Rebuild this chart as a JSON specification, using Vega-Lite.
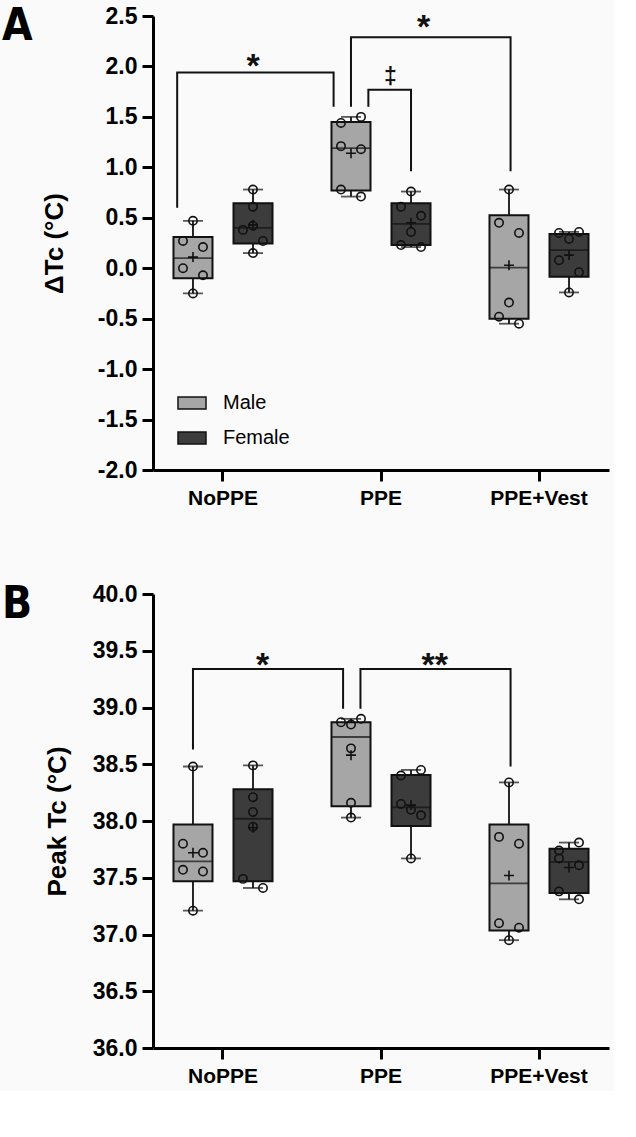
{
  "$schema": "https://vega.github.io/schema/vega-lite/v6.json",
  "background": "#fafafa",
  "padding": {"left": 2, "top": 5, "right": 5, "bottom": 5},
  "spacing": 75,
  "config": {
    "view": {"stroke": null},
    "axis": {"grid": false, "domainColor": "#000", "tickColor": "#000", "labelColor": "#000", "titleColor": "#000", "domainWidth": 3, "tickWidth": 3}
  },
  "datasets": {
    "boxA": [
      {"cond": "NoPPE", "sex": "Male", "min": -0.25, "q1": -0.10, "med": 0.10, "q3": 0.31, "max": 0.47, "mean": 0.11},
      {"cond": "NoPPE", "sex": "Female", "min": 0.15, "q1": 0.245, "med": 0.40, "q3": 0.645, "max": 0.78, "mean": 0.43},
      {"cond": "PPE", "sex": "Male", "min": 0.71, "q1": 0.77, "med": 1.19, "q3": 1.45, "max": 1.50, "mean": 1.14},
      {"cond": "PPE", "sex": "Female", "min": 0.21, "q1": 0.23, "med": 0.44, "q3": 0.645, "max": 0.76, "mean": 0.45},
      {"cond": "PPE+Vest", "sex": "Male", "min": -0.55, "q1": -0.50, "med": 0.005, "q3": 0.525, "max": 0.78, "mean": 0.03},
      {"cond": "PPE+Vest", "sex": "Female", "min": -0.24, "q1": -0.085, "med": 0.18, "q3": 0.34, "max": 0.36, "mean": 0.13}
    ],
    "ptsA": [
      {"cond": "NoPPE", "slot": "M-C", "v": 0.47}, {"cond": "NoPPE", "slot": "M-L", "v": 0.27}, {"cond": "NoPPE", "slot": "M-R", "v": 0.21},
      {"cond": "NoPPE", "slot": "M-L", "v": 0.00}, {"cond": "NoPPE", "slot": "M-R", "v": -0.07}, {"cond": "NoPPE", "slot": "M-C", "v": -0.25},
      {"cond": "NoPPE", "slot": "F-C", "v": 0.78}, {"cond": "NoPPE", "slot": "F-C", "v": 0.61}, {"cond": "NoPPE", "slot": "F-C", "v": 0.42},
      {"cond": "NoPPE", "slot": "F-L", "v": 0.38}, {"cond": "NoPPE", "slot": "F-R", "v": 0.27}, {"cond": "NoPPE", "slot": "F-C", "v": 0.15},
      {"cond": "PPE", "slot": "M-R", "v": 1.50}, {"cond": "PPE", "slot": "M-L", "v": 1.44}, {"cond": "PPE", "slot": "M-L", "v": 1.21},
      {"cond": "PPE", "slot": "M-R", "v": 1.18}, {"cond": "PPE", "slot": "M-L", "v": 0.78}, {"cond": "PPE", "slot": "M-R", "v": 0.71},
      {"cond": "PPE", "slot": "F-C", "v": 0.76}, {"cond": "PPE", "slot": "F-L", "v": 0.61}, {"cond": "PPE", "slot": "F-R", "v": 0.52},
      {"cond": "PPE", "slot": "F-C", "v": 0.36}, {"cond": "PPE", "slot": "F-L", "v": 0.23}, {"cond": "PPE", "slot": "F-R", "v": 0.21},
      {"cond": "PPE+Vest", "slot": "M-C", "v": 0.78}, {"cond": "PPE+Vest", "slot": "M-L", "v": 0.45}, {"cond": "PPE+Vest", "slot": "M-R", "v": 0.35},
      {"cond": "PPE+Vest", "slot": "M-C", "v": -0.34}, {"cond": "PPE+Vest", "slot": "M-L", "v": -0.48}, {"cond": "PPE+Vest", "slot": "M-R", "v": -0.55},
      {"cond": "PPE+Vest", "slot": "F-R", "v": 0.36}, {"cond": "PPE+Vest", "slot": "F-L", "v": 0.35}, {"cond": "PPE+Vest", "slot": "F-C", "v": 0.29},
      {"cond": "PPE+Vest", "slot": "F-L", "v": 0.08}, {"cond": "PPE+Vest", "slot": "F-R", "v": -0.04}, {"cond": "PPE+Vest", "slot": "F-C", "v": -0.24}
    ],
    "brkA": [
      {"id": 1, "k": 0, "c": -0.29, "v": 0.60}, {"id": 1, "k": 1, "c": -0.29, "v": 1.94}, {"id": 1, "k": 2, "c": 0.70, "v": 1.94}, {"id": 1, "k": 3, "c": 0.70, "v": 1.60},
      {"id": 2, "k": 0, "c": 0.81, "v": 1.60}, {"id": 2, "k": 1, "c": 0.81, "v": 2.29}, {"id": 2, "k": 2, "c": 1.82, "v": 2.29}, {"id": 2, "k": 3, "c": 1.82, "v": 0.96},
      {"id": 3, "k": 0, "c": 0.92, "v": 1.60}, {"id": 3, "k": 1, "c": 0.92, "v": 1.77}, {"id": 3, "k": 2, "c": 1.19, "v": 1.77}, {"id": 3, "k": 3, "c": 1.19, "v": 0.96}
    ],
    "starA": [
      {"t": "*", "c": 0.19, "v": 1.90},
      {"t": "*", "c": 1.27, "v": 2.28}
    ],
    "dagA": [
      {"t": "‡", "c": 1.06, "v": 1.83}
    ],
    "boxB": [
      {"cond": "NoPPE", "sex": "Male", "min": 37.21, "q1": 37.47, "med": 37.645, "q3": 37.97, "max": 38.48, "mean": 37.72},
      {"cond": "NoPPE", "sex": "Female", "min": 37.41, "q1": 37.47, "med": 38.02, "q3": 38.28, "max": 38.49, "mean": 37.94},
      {"cond": "PPE", "sex": "Male", "min": 38.03, "q1": 38.13, "med": 38.74, "q3": 38.87, "max": 38.90, "mean": 38.58},
      {"cond": "PPE", "sex": "Female", "min": 37.67, "q1": 37.955, "med": 38.12, "q3": 38.405, "max": 38.45, "mean": 38.14},
      {"cond": "PPE+Vest", "sex": "Male", "min": 36.95, "q1": 37.035, "med": 37.45, "q3": 37.97, "max": 38.34, "mean": 37.52},
      {"cond": "PPE+Vest", "sex": "Female", "min": 37.31, "q1": 37.365, "med": 37.64, "q3": 37.755, "max": 37.81, "mean": 37.59}
    ],
    "ptsB": [
      {"cond": "NoPPE", "slot": "M-C", "v": 38.48}, {"cond": "NoPPE", "slot": "M-L", "v": 37.80}, {"cond": "NoPPE", "slot": "M-R", "v": 37.72},
      {"cond": "NoPPE", "slot": "M-L", "v": 37.57}, {"cond": "NoPPE", "slot": "M-R", "v": 37.555}, {"cond": "NoPPE", "slot": "M-C", "v": 37.21},
      {"cond": "NoPPE", "slot": "F-C", "v": 38.49}, {"cond": "NoPPE", "slot": "F-C", "v": 38.21}, {"cond": "NoPPE", "slot": "F-C", "v": 38.08},
      {"cond": "NoPPE", "slot": "F-C", "v": 37.95}, {"cond": "NoPPE", "slot": "F-L", "v": 37.49}, {"cond": "NoPPE", "slot": "F-R", "v": 37.41},
      {"cond": "PPE", "slot": "M-R", "v": 38.90}, {"cond": "PPE", "slot": "M-L", "v": 38.87}, {"cond": "PPE", "slot": "M-C", "v": 38.85},
      {"cond": "PPE", "slot": "M-C", "v": 38.64}, {"cond": "PPE", "slot": "M-C", "v": 38.16}, {"cond": "PPE", "slot": "M-C", "v": 38.03},
      {"cond": "PPE", "slot": "F-R", "v": 38.45}, {"cond": "PPE", "slot": "F-L", "v": 38.40}, {"cond": "PPE", "slot": "F-L", "v": 38.15},
      {"cond": "PPE", "slot": "F-C", "v": 38.10}, {"cond": "PPE", "slot": "F-R", "v": 38.05}, {"cond": "PPE", "slot": "F-C", "v": 37.67},
      {"cond": "PPE+Vest", "slot": "M-C", "v": 38.34}, {"cond": "PPE+Vest", "slot": "M-L", "v": 37.86}, {"cond": "PPE+Vest", "slot": "M-R", "v": 37.80},
      {"cond": "PPE+Vest", "slot": "M-L", "v": 37.10}, {"cond": "PPE+Vest", "slot": "M-R", "v": 37.06}, {"cond": "PPE+Vest", "slot": "M-C", "v": 36.95},
      {"cond": "PPE+Vest", "slot": "F-R", "v": 37.81}, {"cond": "PPE+Vest", "slot": "F-L", "v": 37.74}, {"cond": "PPE+Vest", "slot": "F-L", "v": 37.67},
      {"cond": "PPE+Vest", "slot": "F-R", "v": 37.61}, {"cond": "PPE+Vest", "slot": "F-L", "v": 37.38}, {"cond": "PPE+Vest", "slot": "F-R", "v": 37.31}
    ],
    "brkB": [
      {"id": 1, "k": 0, "c": -0.19, "v": 38.63}, {"id": 1, "k": 1, "c": -0.19, "v": 39.34}, {"id": 1, "k": 2, "c": 0.76, "v": 39.34}, {"id": 1, "k": 3, "c": 0.76, "v": 38.99},
      {"id": 2, "k": 0, "c": 0.87, "v": 38.99}, {"id": 2, "k": 1, "c": 0.87, "v": 39.34}, {"id": 2, "k": 2, "c": 1.82, "v": 39.34}, {"id": 2, "k": 3, "c": 1.82, "v": 38.48}
    ],
    "starB": [
      {"t": "*", "c": 0.25, "v": 39.28},
      {"t": "**", "c": 1.34, "v": 39.28}
    ]
  },
  "resolve": {"scale": {"fill": "independent"}, "legend": {"fill": "independent"}},
  "vconcat": [
    {
      "width": 456,
      "height": 454,
      "title": {"text": "A", "anchor": "start", "frame": "group", "orient": "top", "offset": -44, "dx": -151, "fontSize": 44, "font": "Liberation Sans Narrow, DejaVu Sans Condensed, Liberation Sans", "fontWeight": "bold", "color": "#000"},
      "resolve": {"scale": {"x": "independent", "xOffset": "independent"}},
      "layer": [
        {
          "data": {"name": "boxA"},
          "mark": {"type": "rule", "strokeWidth": 1.8, "color": "#111"},
          "encoding": {
            "x": {"field": "cond", "type": "nominal", "sort": null, "scale": {"domain": ["NoPPE", "PPE", "PPE+Vest"], "paddingInner": 0.2, "paddingOuter": 0.043},
                  "axis": {"title": null, "labelFont": "Liberation Sans", "labelFontWeight": "bold", "labelFontSize": 21, "labelAngle": 0, "labelPadding": 6, "tickSize": 11}},
            "xOffset": {"field": "sex", "type": "nominal", "scale": {"domain": ["Male", "Female"], "paddingInner": 0.35, "paddingOuter": 0.228}},
            "y": {"field": "min", "type": "quantitative", "title": "ΔTc (°C)",
                  "scale": {"domain": [-2, 2.5], "nice": false, "zero": false},
                  "axis": {"values": [-2, -1.5, -1, -0.5, 0, 0.5, 1, 1.5, 2, 2.5], "labelExpr": "(datum.value < 0 ? '-' : '') + format(abs(datum.value), '.1f')",
                           "labelFont": "Liberation Sans", "labelFontWeight": "bold", "labelFontSize": 23, "labelPadding": 5, "tickSize": 11,
                           "titleFont": "Liberation Sans", "titleFontWeight": "bold", "titleFontSize": 26, "titlePadding": 30}},
            "y2": {"field": "max"}
          }
        },
        {
          "data": {"name": "boxA"},
          "mark": {"type": "bar", "stroke": "#111", "strokeWidth": 2},
          "encoding": {
            "x": {"field": "cond", "type": "nominal", "sort": null, "scale": {"domain": ["NoPPE", "PPE", "PPE+Vest"], "paddingInner": 0.2, "paddingOuter": 0.043}, "axis": null},
            "xOffset": {"field": "sex", "type": "nominal", "scale": {"domain": ["Male", "Female"], "paddingInner": 0.35, "paddingOuter": 0.228}},
            "y": {"field": "q1", "type": "quantitative", "title": "ΔTc (°C)"},
            "y2": {"field": "q3"},
            "fill": {"field": "sex", "type": "nominal", "scale": {"domain": ["Male", "Female"], "range": ["#a6a6a6", "#3c3c3c"]},
                     "legend": {"title": null, "orient": "none", "legendX": 24, "legendY": 372, "symbolType": "M-1,-0.43H1V0.43H-1Z", "symbolSize": 784,
                                "symbolStrokeColor": "#111", "symbolStrokeWidth": 1.5, "labelFont": "Liberation Sans", "labelFontSize": 20, "labelColor": "#000",
                                "labelOffset": 16, "rowPadding": 10}}
          }
        },
        {
          "data": {"name": "boxA"},
          "mark": {"type": "tick", "size": 39, "thickness": 1.8, "color": "#111"},
          "encoding": {
            "x": {"field": "cond", "type": "nominal", "sort": null, "scale": {"domain": ["NoPPE", "PPE", "PPE+Vest"], "paddingInner": 0.2, "paddingOuter": 0.043}, "axis": null},
            "xOffset": {"field": "sex", "type": "nominal", "scale": {"domain": ["Male", "Female"], "paddingInner": 0.35, "paddingOuter": 0.228}},
            "y": {"field": "med", "type": "quantitative", "title": "ΔTc (°C)"}
          }
        },
        {
          "data": {"name": "boxA"},
          "mark": {"type": "tick", "size": 20, "thickness": 1.8, "color": "#111"},
          "encoding": {
            "x": {"field": "cond", "type": "nominal", "sort": null, "scale": {"domain": ["NoPPE", "PPE", "PPE+Vest"], "paddingInner": 0.2, "paddingOuter": 0.043}, "axis": null},
            "xOffset": {"field": "sex", "type": "nominal", "scale": {"domain": ["Male", "Female"], "paddingInner": 0.35, "paddingOuter": 0.228}},
            "y": {"field": "min", "type": "quantitative", "title": "ΔTc (°C)"}
          }
        },
        {
          "data": {"name": "boxA"},
          "mark": {"type": "tick", "size": 20, "thickness": 1.8, "color": "#111"},
          "encoding": {
            "x": {"field": "cond", "type": "nominal", "sort": null, "scale": {"domain": ["NoPPE", "PPE", "PPE+Vest"], "paddingInner": 0.2, "paddingOuter": 0.043}, "axis": null},
            "xOffset": {"field": "sex", "type": "nominal", "scale": {"domain": ["Male", "Female"], "paddingInner": 0.35, "paddingOuter": 0.228}},
            "y": {"field": "max", "type": "quantitative", "title": "ΔTc (°C)"}
          }
        },
        {
          "data": {"name": "boxA"},
          "mark": {"type": "point", "shape": "M-1,0H1M0,-1V1", "filled": false, "stroke": "#111", "strokeWidth": 1.6, "size": 100, "opacity": 1},
          "encoding": {
            "x": {"field": "cond", "type": "nominal", "sort": null, "scale": {"domain": ["NoPPE", "PPE", "PPE+Vest"], "paddingInner": 0.2, "paddingOuter": 0.043}, "axis": null},
            "xOffset": {"field": "sex", "type": "nominal", "scale": {"type": "point", "domain": ["Male", "Female"], "padding": 0.553}},
            "y": {"field": "mean", "type": "quantitative", "title": "ΔTc (°C)"}
          }
        },
        {
          "data": {"name": "ptsA"},
          "mark": {"type": "point", "shape": "circle", "filled": false, "stroke": "#111", "strokeWidth": 1.6, "size": 70, "opacity": 1},
          "encoding": {
            "x": {"field": "cond", "type": "nominal", "sort": null, "scale": {"domain": ["NoPPE", "PPE", "PPE+Vest"], "paddingInner": 0.2, "paddingOuter": 0.043}, "axis": null},
            "xOffset": {"field": "slot", "type": "nominal", "scale": {"type": "point", "domain": ["d0", "d1", "M-L", "M-C", "M-R", "d5", "d6", "d7", "F-L", "F-C", "F-R", "d11", "d12"], "padding": 0.32}},
            "y": {"field": "v", "type": "quantitative", "title": "ΔTc (°C)"}
          }
        },
        {
          "data": {"name": "brkA"},
          "mark": {"type": "line", "strokeWidth": 2, "color": "#111", "strokeCap": "butt", "strokeJoin": "miter"},
          "encoding": {
            "x": {"field": "c", "type": "quantitative", "scale": {"domain": [-0.443, 2.443], "nice": false, "zero": false}, "axis": null},
            "y": {"field": "v", "type": "quantitative", "title": "ΔTc (°C)"},
            "detail": {"field": "id"},
            "order": {"field": "k"}
          }
        },
        {
          "data": {"name": "starA"},
          "mark": {"type": "text", "font": "Liberation Sans", "fontWeight": "bold", "fontSize": 34, "baseline": "alphabetic", "align": "center", "color": "#111"},
          "encoding": {
            "x": {"field": "c", "type": "quantitative", "scale": {"domain": [-0.443, 2.443], "nice": false, "zero": false}, "axis": null},
            "y": {"field": "v", "type": "quantitative", "title": "ΔTc (°C)"},
            "text": {"field": "t"}
          }
        },
        {
          "data": {"name": "dagA"},
          "mark": {"type": "text", "font": "Liberation Sans", "fontWeight": "bold", "fontSize": 23, "baseline": "alphabetic", "align": "center", "color": "#111"},
          "encoding": {
            "x": {"field": "c", "type": "quantitative", "scale": {"domain": [-0.443, 2.443], "nice": false, "zero": false}, "axis": null},
            "y": {"field": "v", "type": "quantitative", "title": "ΔTc (°C)"},
            "text": {"field": "t"}
          }
        }
      ]
    },
    {
      "width": 456,
      "height": 454,
      "title": {"text": "B", "anchor": "start", "frame": "group", "orient": "top", "offset": -44, "dx": -151, "fontSize": 44, "font": "Liberation Sans Narrow, DejaVu Sans Condensed, Liberation Sans", "fontWeight": "bold", "color": "#000"},
      "resolve": {"scale": {"x": "independent", "xOffset": "independent"}},
      "layer": [
        {
          "data": {"name": "boxB"},
          "mark": {"type": "rule", "strokeWidth": 1.8, "color": "#111"},
          "encoding": {
            "x": {"field": "cond", "type": "nominal", "sort": null, "scale": {"domain": ["NoPPE", "PPE", "PPE+Vest"], "paddingInner": 0.2, "paddingOuter": 0.043},
                  "axis": {"title": null, "labelFont": "Liberation Sans", "labelFontWeight": "bold", "labelFontSize": 21, "labelAngle": 0, "labelPadding": 6, "tickSize": 11}},
            "xOffset": {"field": "sex", "type": "nominal", "scale": {"domain": ["Male", "Female"], "paddingInner": 0.35, "paddingOuter": 0.228}},
            "y": {"field": "min", "type": "quantitative", "title": "Peak Tc (°C)",
                  "scale": {"domain": [36, 40], "nice": false, "zero": false},
                  "axis": {"values": [36, 36.5, 37, 37.5, 38, 38.5, 39, 39.5, 40], "format": ".1f",
                           "labelFont": "Liberation Sans", "labelFontWeight": "bold", "labelFontSize": 23, "labelPadding": 5, "tickSize": 11,
                           "titleFont": "Liberation Sans", "titleFontWeight": "bold", "titleFontSize": 26, "titlePadding": 22}},
            "y2": {"field": "max"}
          }
        },
        {
          "data": {"name": "boxB"},
          "mark": {"type": "bar", "stroke": "#111", "strokeWidth": 2},
          "encoding": {
            "x": {"field": "cond", "type": "nominal", "sort": null, "scale": {"domain": ["NoPPE", "PPE", "PPE+Vest"], "paddingInner": 0.2, "paddingOuter": 0.043}, "axis": null},
            "xOffset": {"field": "sex", "type": "nominal", "scale": {"domain": ["Male", "Female"], "paddingInner": 0.35, "paddingOuter": 0.228}},
            "y": {"field": "q1", "type": "quantitative", "title": "Peak Tc (°C)"},
            "y2": {"field": "q3"},
            "fill": {"field": "sex", "type": "nominal", "scale": {"domain": ["Male", "Female"], "range": ["#a6a6a6", "#3c3c3c"]}, "legend": null}
          }
        },
        {
          "data": {"name": "boxB"},
          "mark": {"type": "tick", "size": 39, "thickness": 1.8, "color": "#111"},
          "encoding": {
            "x": {"field": "cond", "type": "nominal", "sort": null, "scale": {"domain": ["NoPPE", "PPE", "PPE+Vest"], "paddingInner": 0.2, "paddingOuter": 0.043}, "axis": null},
            "xOffset": {"field": "sex", "type": "nominal", "scale": {"domain": ["Male", "Female"], "paddingInner": 0.35, "paddingOuter": 0.228}},
            "y": {"field": "med", "type": "quantitative", "title": "Peak Tc (°C)"}
          }
        },
        {
          "data": {"name": "boxB"},
          "mark": {"type": "tick", "size": 20, "thickness": 1.8, "color": "#111"},
          "encoding": {
            "x": {"field": "cond", "type": "nominal", "sort": null, "scale": {"domain": ["NoPPE", "PPE", "PPE+Vest"], "paddingInner": 0.2, "paddingOuter": 0.043}, "axis": null},
            "xOffset": {"field": "sex", "type": "nominal", "scale": {"domain": ["Male", "Female"], "paddingInner": 0.35, "paddingOuter": 0.228}},
            "y": {"field": "min", "type": "quantitative", "title": "Peak Tc (°C)"}
          }
        },
        {
          "data": {"name": "boxB"},
          "mark": {"type": "tick", "size": 20, "thickness": 1.8, "color": "#111"},
          "encoding": {
            "x": {"field": "cond", "type": "nominal", "sort": null, "scale": {"domain": ["NoPPE", "PPE", "PPE+Vest"], "paddingInner": 0.2, "paddingOuter": 0.043}, "axis": null},
            "xOffset": {"field": "sex", "type": "nominal", "scale": {"domain": ["Male", "Female"], "paddingInner": 0.35, "paddingOuter": 0.228}},
            "y": {"field": "max", "type": "quantitative", "title": "Peak Tc (°C)"}
          }
        },
        {
          "data": {"name": "boxB"},
          "mark": {"type": "point", "shape": "M-1,0H1M0,-1V1", "filled": false, "stroke": "#111", "strokeWidth": 1.6, "size": 100, "opacity": 1},
          "encoding": {
            "x": {"field": "cond", "type": "nominal", "sort": null, "scale": {"domain": ["NoPPE", "PPE", "PPE+Vest"], "paddingInner": 0.2, "paddingOuter": 0.043}, "axis": null},
            "xOffset": {"field": "sex", "type": "nominal", "scale": {"type": "point", "domain": ["Male", "Female"], "padding": 0.553}},
            "y": {"field": "mean", "type": "quantitative", "title": "Peak Tc (°C)"}
          }
        },
        {
          "data": {"name": "ptsB"},
          "mark": {"type": "point", "shape": "circle", "filled": false, "stroke": "#111", "strokeWidth": 1.6, "size": 70, "opacity": 1},
          "encoding": {
            "x": {"field": "cond", "type": "nominal", "sort": null, "scale": {"domain": ["NoPPE", "PPE", "PPE+Vest"], "paddingInner": 0.2, "paddingOuter": 0.043}, "axis": null},
            "xOffset": {"field": "slot", "type": "nominal", "scale": {"type": "point", "domain": ["d0", "d1", "M-L", "M-C", "M-R", "d5", "d6", "d7", "F-L", "F-C", "F-R", "d11", "d12"], "padding": 0.32}},
            "y": {"field": "v", "type": "quantitative", "title": "Peak Tc (°C)"}
          }
        },
        {
          "data": {"name": "brkB"},
          "mark": {"type": "line", "strokeWidth": 2, "color": "#111", "strokeCap": "butt", "strokeJoin": "miter"},
          "encoding": {
            "x": {"field": "c", "type": "quantitative", "scale": {"domain": [-0.443, 2.443], "nice": false, "zero": false}, "axis": null},
            "y": {"field": "v", "type": "quantitative", "title": "Peak Tc (°C)"},
            "detail": {"field": "id"},
            "order": {"field": "k"}
          }
        },
        {
          "data": {"name": "starB"},
          "mark": {"type": "text", "font": "Liberation Sans", "fontWeight": "bold", "fontSize": 34, "baseline": "alphabetic", "align": "center", "color": "#111"},
          "encoding": {
            "x": {"field": "c", "type": "quantitative", "scale": {"domain": [-0.443, 2.443], "nice": false, "zero": false}, "axis": null},
            "y": {"field": "v", "type": "quantitative", "title": "Peak Tc (°C)"},
            "text": {"field": "t"}
          }
        }
      ]
    }
  ]
}
